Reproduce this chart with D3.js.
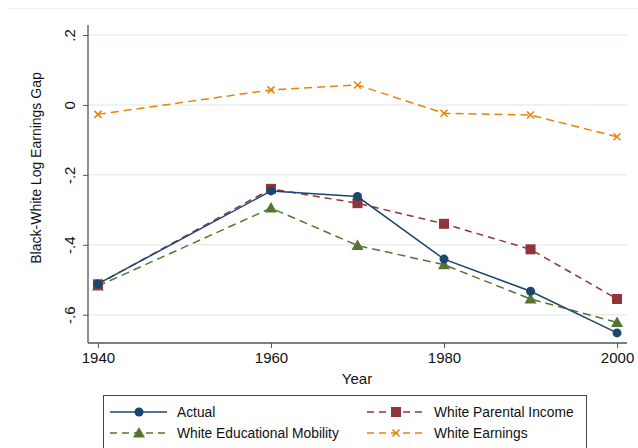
<!DOCTYPE html>
<html><head><meta charset="utf-8">
<script src="https://cdn.jsdelivr.net/npm/d3@7"></script>
<style>body{margin:0;background:#fff}svg{display:block}text{font-family:"Liberation Sans",Arial,sans-serif;fill:#111}</style>
</head><body><svg id="c" width="638" height="448"></svg>
<script>
const years = [1940, 1960, 1970, 1980, 1990, 2000];
const actual = [-0.512, -0.246, -0.262, -0.441, -0.533, -0.652];
const parentalIncome = [-0.513, -0.240, -0.281, -0.340, -0.413, -0.555];
const eduMobility = [-0.518, -0.295, -0.402, -0.457, -0.555, -0.622];
const whiteEarnings = [-0.027, 0.043, 0.057, -0.024, -0.029, -0.091];
const yTicks = [0.2, 0, -0.2, -0.4, -0.6];
const yTickLabels = [".2", "0", "-.2", "-.4", "-.6"];
const xTicks = [1940, 1960, 1980, 2000];

const series = [
  {name:"Actual", values:actual, color:"#1a476f", dash:null, marker:"circle"},
  {name:"White Parental Income", values:parentalIncome, color:"#90353b", dash:"7,5", marker:"square"},
  {name:"White Educational Mobility", values:eduMobility, color:"#55752f", dash:"8,5", marker:"triangle"},
  {name:"White Earnings", values:whiteEarnings, color:"#e8830a", dash:"8,5", marker:"x"}
];

const svg = d3.select("#c");
const L = 88, R = 627, T = 25, B = 343;
const x = d3.scaleLinear().domain([1938.85, 2001.15]).range([L, R]);
const y = d3.scaleLinear().domain([-0.6809, 0.2286]).range([B, T]);

svg.append("line").attr("x1",8).attr("x2",638).attr("y1",8.5).attr("y2",8.5).attr("stroke","#eef2f3").attr("stroke-width",1);

svg.append("g").selectAll("line").data(yTicks).join("line")
  .attr("x1",L).attr("x2",R).attr("y1",d=>y(d)).attr("y2",d=>y(d))
  .attr("stroke","#e8eff0").attr("stroke-width",1.5);

const yAxis = svg.append("g").attr("transform",`translate(${L},0)`)
  .call(d3.axisLeft(y).tickValues(yTicks).tickSize(5).tickFormat((d,i)=>yTickLabels[i]));
yAxis.select(".domain").attr("stroke","#555").attr("stroke-width",1.3).attr("d",`M0,${T}V${B}`);
yAxis.selectAll(".tick line").attr("stroke","#555");
yAxis.selectAll(".tick text").attr("font-size",15).attr("fill","#111")
  .attr("transform","rotate(-90)").attr("x",0).attr("y",-13).attr("dy","0").attr("text-anchor","middle");

const xAxis = svg.append("g").attr("transform",`translate(0,${B})`)
  .call(d3.axisBottom(x).tickValues(xTicks).tickSize(5).tickFormat(d3.format("d")));
xAxis.select(".domain").attr("stroke","#555").attr("stroke-width",1.3).attr("d",`M${L},0H${R}`);
xAxis.selectAll(".tick line").attr("stroke","#555");
xAxis.selectAll(".tick text").attr("font-size",15).attr("fill","#111").attr("y",9);

svg.append("text").attr("x",357).attr("y",384).attr("text-anchor","middle").attr("font-size",15).text("Year");
svg.append("text").attr("transform","translate(41,168) rotate(-90)").attr("text-anchor","middle").attr("font-size",14).text("Black-White Log Earnings Gap");

function drawMarker(g, type, cx, cy, color){
  if(type==="circle") g.append("circle").attr("cx",cx).attr("cy",cy).attr("r",4.5).attr("fill",color);
  else if(type==="square") g.append("rect").attr("x",cx-5).attr("y",cy-5).attr("width",10).attr("height",10).attr("fill",color);
  else if(type==="triangle") g.append("path").attr("d",`M${cx},${cy-6}L${cx+6},${cy+4.5}L${cx-6},${cy+4.5}Z`).attr("fill",color);
  else if(type==="x") g.append("path").attr("d",`M${cx-3.5},${cy-3.5}L${cx+3.5},${cy+3.5}M${cx+3.5},${cy-3.5}L${cx-3.5},${cy+3.5}`).attr("stroke",color).attr("stroke-width",1.5);
}

const line = d3.line().x(d=>x(d[0])).y(d=>y(d[1]));
const order = [3,2,1,0];
order.forEach(i=>{
  const s = series[i];
  const pts = years.map((yr,j)=>[yr, s.values[j]]);
  const g = svg.append("g");
  g.append("path").attr("d",line(pts)).attr("fill","none").attr("stroke",s.color)
    .attr("stroke-width",1.5).attr("stroke-dasharray",s.dash);
  pts.forEach(p=>drawMarker(g, s.marker, x(p[0]), y(p[1]), s.color));
});

const lg = svg.append("g");
lg.append("rect").attr("x",103.5).attr("y",395.5).attr("width",483).attr("height",60).attr("fill","#fff").attr("stroke","#444").attr("stroke-width",1);
const pos = [[110,412,0],[367,412,1],[110,433,2],[367,433,3]];
pos.forEach(([lx,ly,i])=>{
  const s = series[i];
  lg.append("line").attr("x1",lx).attr("x2",lx+57).attr("y1",ly).attr("y2",ly)
    .attr("stroke",s.color).attr("stroke-width",1.5).attr("stroke-dasharray",s.dash?"7,5":null);
  drawMarker(lg, s.marker, lx+29, ly, s.color);
  lg.append("text").attr("x",lx+67).attr("y",ly+5).attr("font-size",13.8).text(s.name);
});
</script></body></html>
